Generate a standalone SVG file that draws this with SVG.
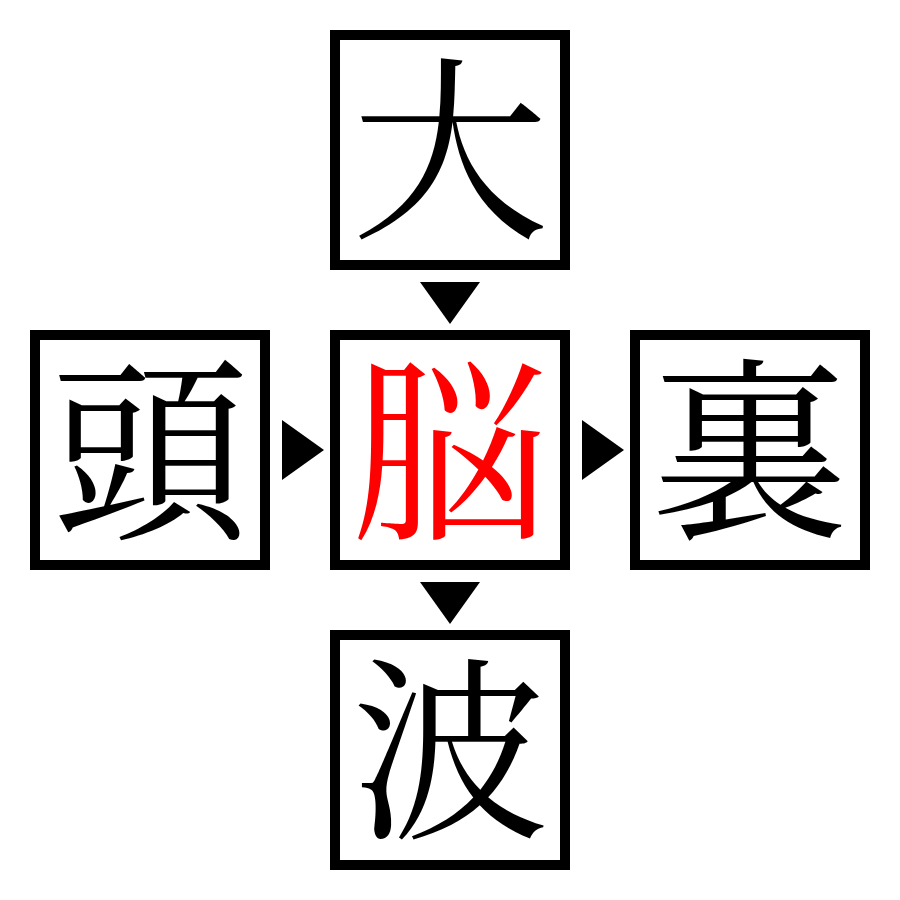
<svg xmlns="http://www.w3.org/2000/svg" width="900" height="900" viewBox="0 0 900 900">
<style>
.box{fill:#fff;stroke:#000;stroke-width:10}
.k{font-family:"Noto Serif CJK JP","Liberation Serif","Noto Sans CJK JP",serif;font-size:197px;text-anchor:middle;fill:#000}
.r{fill:#f00}
.arr{fill:#000}
</style>
<rect width="900" height="900" fill="#fff"/>
<g id="connectors">
<polygon class="arr" points="420,282 480,282 450,324"/>
<polygon class="arr" points="420,582 480,582 450,624"/>
<polygon class="arr" points="282,420 282,480 324,450"/>
<polygon class="arr" points="582,420 582,480 624,450"/>
</g>
<g id="node-top"><rect class="box" x="335" y="35" width="230" height="230"/><text class="k" x="450" y="223">大</text></g>
<g id="node-left"><rect class="box" x="35" y="335" width="230" height="230"/><text class="k" x="150" y="524">頭</text></g>
<g id="node-center"><rect class="box" x="335" y="335" width="230" height="230"/><text class="k r" x="450" y="524">脳</text></g>
<g id="node-right"><rect class="box" x="635" y="335" width="230" height="230"/><text class="k" x="750" y="524">裏</text></g>
<g id="node-bottom"><rect class="box" x="335" y="635" width="230" height="230"/><text class="k" x="450" y="823">波</text></g>
</svg>
